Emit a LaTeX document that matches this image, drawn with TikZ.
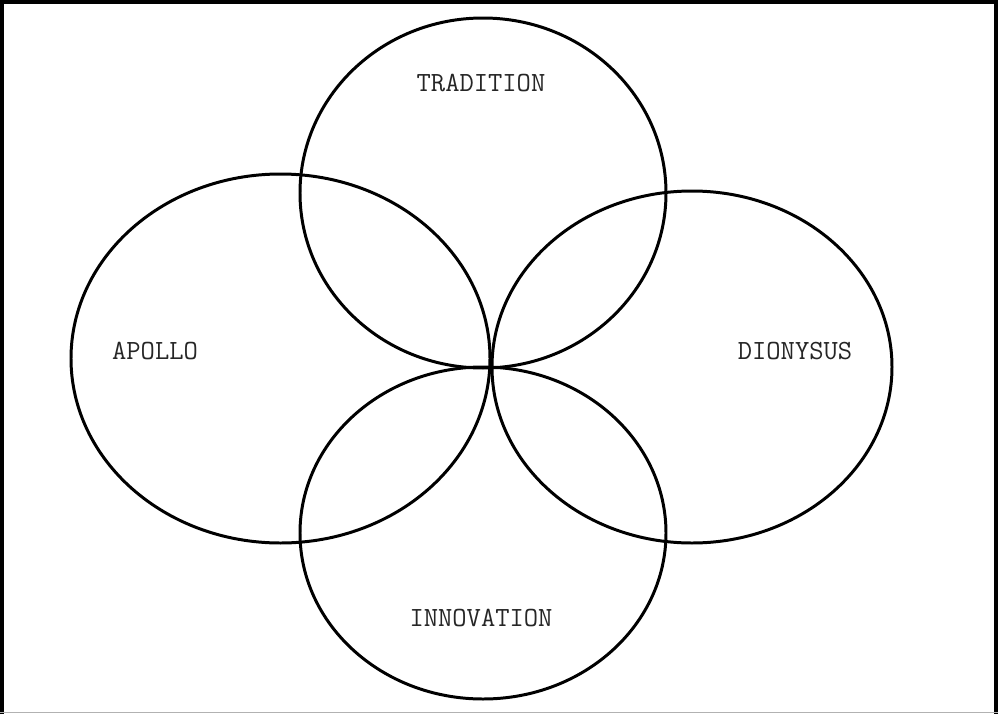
\documentclass[tikz,border=0pt]{standalone}
\usepackage{tikz}
\usetikzlibrary{positioning}
\tikzset{
  % the four overlapping sets
  setring/.style={line width=1.7pt, draw=black},
  % set names
  setname/.style={font=\ttfamily\fontsize{15.8}{18}\selectfont, text=black!85, inner sep=0pt},
  % outer frame
  frameln/.style={line width=2.6pt, black},
}
\begin{document}
\begin{tikzpicture}[x=0.02cm, y=-0.02cm]
    \useasboundingbox (0,0) rectangle (998,714);
    % frame: heavy on three sides, light at the foot
    \draw[frameln] (2,714) -- (2,2) -- (996,2) -- (996,714);
    \draw[gray!60, line width=0.6pt] (0,712.5) -- (998,712.5);
    % the four sets
    \draw[setring] (483,193) ellipse [x radius=183, y radius=175];
    \draw[setring] (280.5,358.5) ellipse [x radius=209.5, y radius=184.5];
    \draw[setring] (692,367) ellipse [x radius=200, y radius=176];
    \draw[setring] (483,533) ellipse [x radius=183, y radius=166];
    % names
    \node[setname] (trad) at (481,83) {TRADITION};
    \node[setname] (apollo) at (155,351) {APOLLO};
    \node[setname] (dion) at (795,351) {DIONYSUS};
    \node[setname] (innov) at (481,618) {INNOVATION};
\end{tikzpicture}
\end{document}
